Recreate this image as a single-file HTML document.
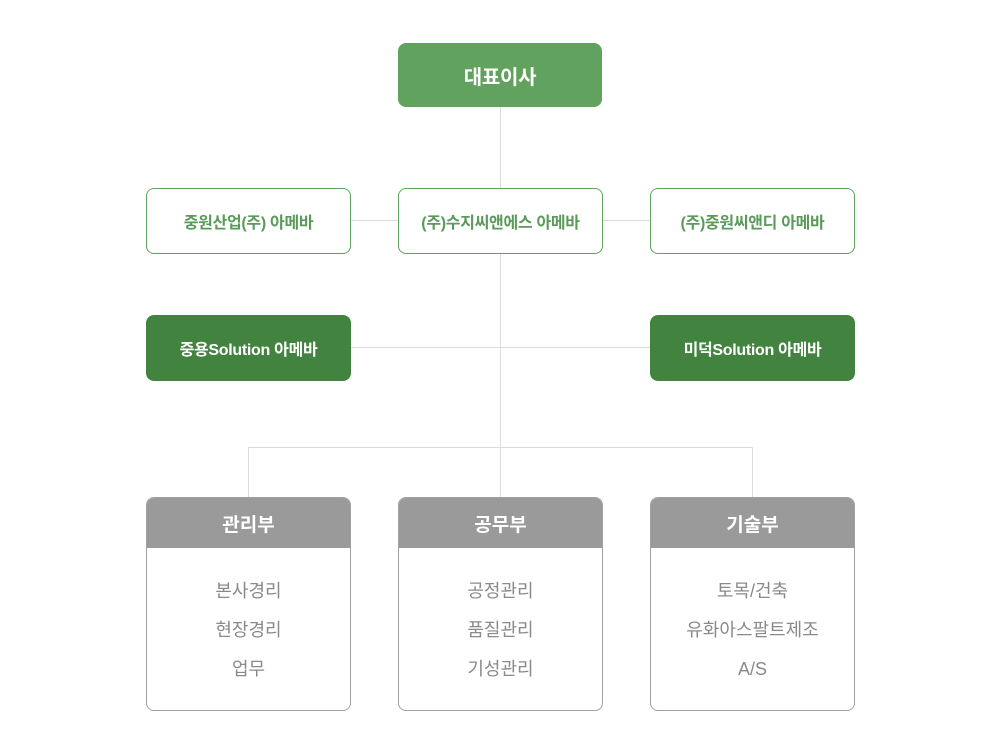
<!DOCTYPE html>
<html><head><meta charset="utf-8"><style>
body{margin:0;width:1000px;height:754px;background:#fff;position:relative;font-family:"Liberation Sans","Noto Sans CJK KR",sans-serif;overflow:hidden}
.l{position:absolute;background:#dcdcdc}
.b{position:absolute;box-sizing:border-box;border-radius:8px;display:flex;align-items:center;justify-content:center;font-weight:bold;letter-spacing:-0.3px}
.o{border:1px solid #5fa35f;color:#5a9a5a;background:#fff;font-size:16px}
.d{background:#42843f;color:#fff;font-size:16px}
.dept{position:absolute;width:205px;top:497px;height:214px;box-sizing:border-box;border:1px solid #a0a0a0;border-radius:8px;overflow:hidden;background:#fff}
.dept .h{height:50px;background:#9a9a9a;color:#fff;font-size:19px;font-weight:bold;display:flex;align-items:center;justify-content:center}
.dept .i{text-align:center;color:#8a8a8a;font-size:18px;line-height:39px;padding-top:24px}
</style></head><body>
<div class="l" style="left:500px;top:107px;width:1px;height:390px"></div>
<div class="l" style="left:350px;top:220px;width:300px;height:1px"></div>
<div class="l" style="left:350px;top:347px;width:300px;height:1px"></div>
<div class="l" style="left:248px;top:447px;width:505px;height:1px"></div>
<div class="l" style="left:248px;top:447px;width:1px;height:50px"></div>
<div class="l" style="left:752px;top:447px;width:1px;height:50px"></div>
<div class="b" style="left:398px;top:43px;width:204px;height:64px;background:#61a25e;color:#fff;font-size:20px">대표이사</div>
<div class="b o" style="left:146px;top:188px;width:205px;height:66px">중원산업(주) 아메바</div>
<div class="b o" style="left:398px;top:188px;width:205px;height:66px">(주)수지씨앤에스 아메바</div>
<div class="b o" style="left:650px;top:188px;width:205px;height:66px">(주)중원씨앤디 아메바</div>
<div class="b d" style="left:146px;top:315px;width:205px;height:66px">중용Solution 아메바</div>
<div class="b d" style="left:650px;top:315px;width:205px;height:66px">미덕Solution 아메바</div>
<div class="dept" style="left:146px"><div class="h">관리부</div><div class="i">본사경리<br>현장경리<br>업무</div></div>
<div class="dept" style="left:398px"><div class="h">공무부</div><div class="i">공정관리<br>품질관리<br>기성관리</div></div>
<div class="dept" style="left:650px"><div class="h">기술부</div><div class="i">토목/건축<br>유화아스팔트제조<br>A/S</div></div>
</body></html>
